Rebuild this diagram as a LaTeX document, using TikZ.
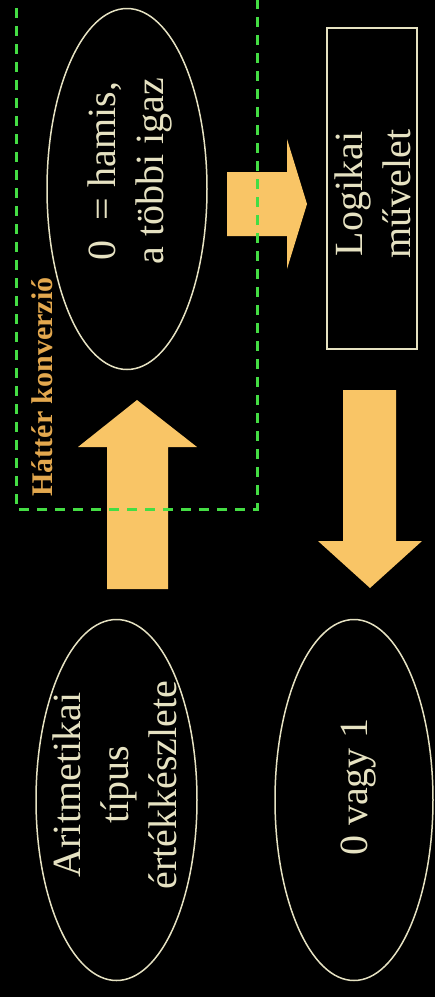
\documentclass[tikz,border=0pt]{standalone}
\usepackage{fontspec}
\setmainfont{Liberation Serif}
\usetikzlibrary{shapes.geometric}
\definecolor{cream}{HTML}{E6E2C2}
\definecolor{arrowfill}{HTML}{F9C566}
\definecolor{dashgreen}{HTML}{44DD44}
\definecolor{labelorange}{HTML}{E3A84E}
\tikzset{
  oval/.style={draw=cream, line width=1.5pt, ellipse, inner sep=0pt},
  bigtext/.style={text=cream, rotate=90, align=center, inner sep=0pt, font=\fontsize{40}{48}\selectfont},
  blockarrow/.style={fill=arrowfill, draw=none},
}
\begin{document}
\begin{tikzpicture}[x=1pt,y=-1pt]
\fill[black] (0,0) rectangle (435,997);
\useasboundingbox (0,0) rectangle (435,997);
\node[text=labelorange, rotate=90, inner sep=0pt, font=\fontsize{30}{36}\selectfont\bfseries] (hatter) at (42.5,387) {Háttér konverzió};
% ellipses
\node[oval, minimum width=160pt, minimum height=361pt] (conv) at (127,189) {};
\node[bigtext] (convtext) at (130,171) {0~ = hamis,\\a többi igaz};
\node[oval, minimum width=161pt, minimum height=361pt] (arit) at (116.5,800) {};
\node[bigtext] (arittext) at (114.5,785) {Aritmetikai\\típus\\értékkészlete};
\node[oval, minimum width=158pt, minimum height=361pt] (res) at (354,800) {};
\node[bigtext] (restext) at (359,787) {0 vagy 1};
% logical op box
\node[draw=cream, line width=1.5pt, minimum width=90pt, minimum height=321pt, inner sep=0pt] (op) at (372,188.5) {};
\node[bigtext] (optext) at (372.5,194) {Logikai\\művelet};
% block arrows
\fill[blockarrow] (107,589) -- (107,447) -- (78,447) -- (137,400) -- (197,447) -- (168,447) -- (168,589) -- cycle;
\fill[blockarrow] (227,172) -- (287,172) -- (287,139) -- (307,204) -- (287,269) -- (287,236) -- (227,236) -- cycle;
\fill[blockarrow] (343,390) -- (396,390) -- (396,541) -- (422,541) -- (370,588) -- (318,541) -- (343,541) -- cycle;
% dashed group (drawn on top)
\draw[dashgreen, line width=3pt, dash pattern=on 10pt off 8pt] (16,-10) -- (16,509) -- (257,509) -- (257,-10);
\end{tikzpicture}
\end{document}
